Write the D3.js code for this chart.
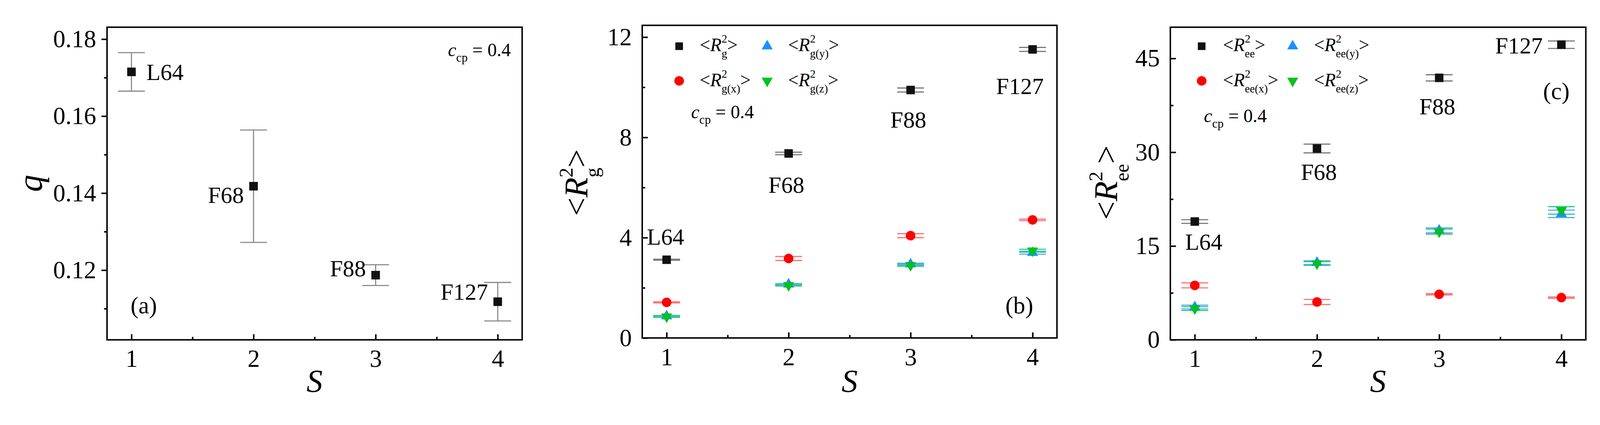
<!DOCTYPE html>
<html><head><meta charset="utf-8">
<script src="https://cdn.jsdelivr.net/npm/d3@7"></script>
<style>html,body{margin:0;padding:0;background:#fff;overflow:hidden}svg{display:block;width:100vw;height:auto}text{font-family:"Liberation Serif","Times New Roman",serif}</style>
</head><body>
<svg id="c" viewBox="0 0 4290 1089" preserveAspectRatio="xMinYMin meet" font-family="Liberation Serif, Times New Roman, serif"></svg>
<script>
const S = [1, 2, 3, 4];
const names = ["L64", "F68", "F88", "F127"];
// panel a
const q = [0.1715, 0.1418, 0.1187, 0.1118];
const qErr = [0.0050, 0.0146, 0.0027, 0.0050];
// panel b
const Rg = [3.12, 7.36, 9.89, 11.51];
const RgErr = [0.02, 0.05, 0.08, 0.08];
const Rgx = [1.42, 3.17, 4.08, 4.71];
const RgxErr = [0.02, 0.08, 0.08, 0.03];
const Rgy = [0.87, 2.14, 2.94, 3.40];
const Rgz = [0.85, 2.10, 2.90, 3.48];
const RgyzErr = [0.03, 0.03, 0.04, 0.06];
// panel c
const Ree = [18.92, 30.6, 41.9, 47.2];
const ReeErr = [0.3, 0.7, 0.5, 0.6];
const Reex = [8.71, 6.05, 7.28, 6.75];
const ReexErr = [0.4, 0.4, 0.1, 0.1];
const Reey = [5.24, 12.35, 17.5, 20.15];
const Reez = [5.0, 12.2, 17.3, 20.7];
const ReeyzErr = [0.3, 0.3, 0.4, 0.6];
const ticksA = [0.12, 0.14, 0.16, 0.18], minorA = [0.11, 0.13, 0.15, 0.17];
const ticksB = [0, 4, 8, 12], minorB = [2, 6, 10];
const ticksC = [0, 15, 30, 45], minorC = [7.5, 22.5, 37.5];
const xTicks = [1, 2, 3, 4], xMinor = [1.5, 2.5, 3.5];

const svg = d3.select("#c");
const COL = {k:"#111", r:"#ff0000", b:"#1e8fff", g:"#00c21a"};
const ERRC = {k:"#777", r:"#ff7070", b:"#55aaff", g:"#33cc77"};

function panel(cfg){
  const g = svg.append("g");
  const x = d3.scaleLinear().domain([0.8,4.2]).range([cfg.x0,cfg.x1]);
  const y = d3.scaleLinear().domain(cfg.yd).range([cfg.y1,cfg.y0]);
  const ins = cfg.yIn ? -15 : 15, insm = cfg.yIn ? -8 : 8;
  g.append("g").attr("transform",`translate(${cfg.x0},0)`)
    .call(d3.axisLeft(y).tickValues(cfg.ticks).tickSize(ins).tickPadding(cfg.yIn?28:14).tickFormat(cfg.fmt));
  g.append("g").attr("transform",`translate(${cfg.x0},0)`)
    .call(d3.axisLeft(y).tickValues(cfg.minor).tickSize(insm).tickFormat(""));
  g.append("g").attr("transform",`translate(0,${cfg.y1})`)
    .call(d3.axisBottom(x).tickValues(xTicks).tickSize(-15).tickPadding(26).tickFormat(d3.format("d")));
  g.append("g").attr("transform",`translate(0,${cfg.y1})`)
    .call(d3.axisBottom(x).tickValues(xMinor).tickSize(-8).tickFormat(""));
  g.selectAll(".domain").remove();
  g.selectAll(".tick line").attr("stroke","#000").attr("stroke-width",4);
  g.selectAll(".tick text").attr("font-size",66).attr("fill","#000").attr("font-family","Liberation Serif, Times New Roman, serif");
  g.append("rect").attr("x",cfg.x0).attr("y",cfg.y0).attr("width",cfg.x1-cfg.x0).attr("height",cfg.y1-cfg.y0)
    .attr("fill","none").attr("stroke","#000").attr("stroke-width",4);
  g.append("text").attr("x",(cfg.x0+cfg.x1)/2).attr("y",1052).attr("text-anchor","middle")
    .attr("font-size",86).attr("font-style","italic").text("S");
  return {g,x,y};
}

function errs(g,x,y,vals,e,c){
  vals.forEach((v,i)=>{
    const cx = x(S[i]);
    g.append("line").attr("x1",cx).attr("x2",cx).attr("y1",y(v-e[i])).attr("y2",y(v+e[i])).attr("stroke",c).attr("stroke-width",3);
    [v-e[i],v+e[i]].forEach(w=>g.append("line").attr("x1",cx-36).attr("x2",cx+36).attr("y1",y(w)).attr("y2",y(w)).attr("stroke",c).attr("stroke-width",3));
  });
}
const sym = {k:d3.symbolSquare, r:d3.symbolCircle, b:d3.symbolTriangle, g:d3.symbolTriangle};
const symSize = {k:520, r:520, b:380, g:380};
function marks(g,x,y,vals,k){
  vals.forEach((v,i)=>{
    g.append("path").attr("d",d3.symbol(sym[k],symSize[k])())
      .attr("transform",`translate(${x(S[i])},${y(v)})${k==="g"?" rotate(180)":""}`).attr("fill",COL[k]);
  });
}
function rich(g,x,y,size,sub,anchor){
  const t = g.append("text").attr("x",x).attr("y",y).attr("font-size",size).attr("text-anchor",anchor||"start");
  t.append("tspan").text("<");
  t.append("tspan").attr("font-style","italic").text("R");
  t.append("tspan").attr("font-size",size*0.6).attr("dy",-size*0.45).text("2");
  t.append("tspan").attr("font-size",size*0.6).attr("dx",-size*0.3).attr("dy",size*0.8).text(sub);
  t.append("tspan").attr("dy",-size*0.35).text(">");
  return t;
}
function cp(g,x,y,size){
  const t = g.append("text").attr("x",x).attr("y",y).attr("font-size",size);
  t.append("tspan").attr("font-style","italic").text("c");
  t.append("tspan").attr("font-size",size*0.65).attr("dy",size*0.3).text("cp");
  t.append("tspan").attr("dy",-size*0.3).text(" = 0.4");
}
function legendSym(g,px,py,k){
  g.append("path").attr("d",d3.symbol(sym[k],k==="k"?420:symSize[k])()).attr("transform",`translate(${px},${py})${k==="g"?" rotate(180)":""}`).attr("fill",COL[k]);
}
function lbl(g,px,py,t,anchor){
  g.append("text").attr("x",px).attr("y",py).attr("font-size",62).attr("text-anchor",anchor).text(t);
}

// Panel a
{
  const {g,x,y} = panel({x0:287,x1:1400,y0:73,y1:912,yd:[0.1019,0.1831],ticks:ticksA,minor:minorA,fmt:d3.format(".2f"),yIn:false});
  errs(g,x,y,q,qErr,"#888");
  q.forEach((v,i)=>g.append("rect").attr("x",x(S[i])-11.5).attr("y",y(v)-11.5).attr("width",23).attr("height",23).attr("fill","#111"));
  lbl(g,x(1)+40,y(q[0])+22,names[0],"start");
  lbl(g,x(2)-26,y(q[1])+45,names[1],"end");
  lbl(g,x(3)-26,y(q[2])+3,names[2],"end");
  lbl(g,x(4)-26,y(q[3])-5,names[3],"end");
  cp(g,1201,151,50);
  g.append("text").attr("x",350).attr("y",841).attr("font-size",64).text("(a)");
  g.append("text").attr("transform","translate(112,492) rotate(-90)").attr("text-anchor","middle")
    .attr("font-size",92).attr("font-style","italic").text("q");
}
// Panel b
{
  const {g,x,y} = panel({x0:1722,x1:2834,y0:68,y1:907,yd:[0,12.47],ticks:ticksB,minor:minorB,fmt:d3.format("d"),yIn:true});
  errs(g,x,y,Rg,RgErr,ERRC.k); errs(g,x,y,Rgx,RgxErr,ERRC.r); errs(g,x,y,Rgy,RgyzErr,ERRC.b); errs(g,x,y,Rgz,RgyzErr,ERRC.g);
  marks(g,x,y,Rg,"k"); marks(g,x,y,Rgx,"r"); marks(g,x,y,Rgy,"b"); marks(g,x,y,Rgz,"g");
  legendSym(g,1821,124,"k"); rich(g,1876,137,50,"g");
  legendSym(g,2057,124,"b"); rich(g,2113,137,50,"g(y)");
  legendSym(g,1821,217,"r"); rich(g,1876,231,50,"g(x)");
  legendSym(g,2057,217,"g"); rich(g,2113,231,50,"g(z)");
  cp(g,1853,317,50);
  lbl(g,x(1)-3,y(Rg[0])-40,names[0],"middle");
  lbl(g,x(2)-6,y(Rg[1])+106,names[1],"middle");
  lbl(g,x(3)-6,y(Rg[2])+101,names[2],"middle");
  lbl(g,x(4)-34,y(Rg[3])+120,names[3],"middle");
  g.append("text").attr("x",2733).attr("y",841).attr("font-size",64).attr("text-anchor","middle").text("(b)");
  const t = rich(g,0,0,88,"g","middle");
  t.attr("transform","translate(1575,490) rotate(-90)");
}
// Panel c
{
  const {g,x,y} = panel({x0:3138,x1:4252,y0:73,y1:912,yd:[0,50],ticks:ticksC,minor:minorC,fmt:d3.format("d"),yIn:true});
  errs(g,x,y,Ree,ReeErr,ERRC.k); errs(g,x,y,Reex,ReexErr,ERRC.r); errs(g,x,y,Reey,ReeyzErr,ERRC.b); errs(g,x,y,Reez,ReeyzErr,ERRC.g);
  marks(g,x,y,Ree,"k"); marks(g,x,y,Reex,"r"); marks(g,x,y,Reey,"b"); marks(g,x,y,Reez,"g");
  legendSym(g,3222,124,"k"); rich(g,3279,137,50,"ee");
  legendSym(g,3466,124,"b"); rich(g,3523,137,50,"ee(y)");
  legendSym(g,3222,217,"r"); rich(g,3279,231,50,"ee(x)");
  legendSym(g,3466,217,"g"); rich(g,3523,231,50,"ee(z)");
  cp(g,3228,328,50);
  lbl(g,x(1)+24,y(Ree[0])+76,names[0],"middle");
  lbl(g,x(2)+5,y(Ree[1])+84,names[1],"middle");
  lbl(g,x(3)-5,y(Ree[2])+98,names[2],"middle");
  lbl(g,x(4)-50,y(Ree[3])+24,names[3],"end");
  g.append("text").attr("x",4173).attr("y",266).attr("font-size",64).attr("text-anchor","middle").text("(c)");
  const t = rich(g,0,0,88,"ee","middle");
  t.attr("transform","translate(2995,490) rotate(-90)");
}
</script>
</body></html>
